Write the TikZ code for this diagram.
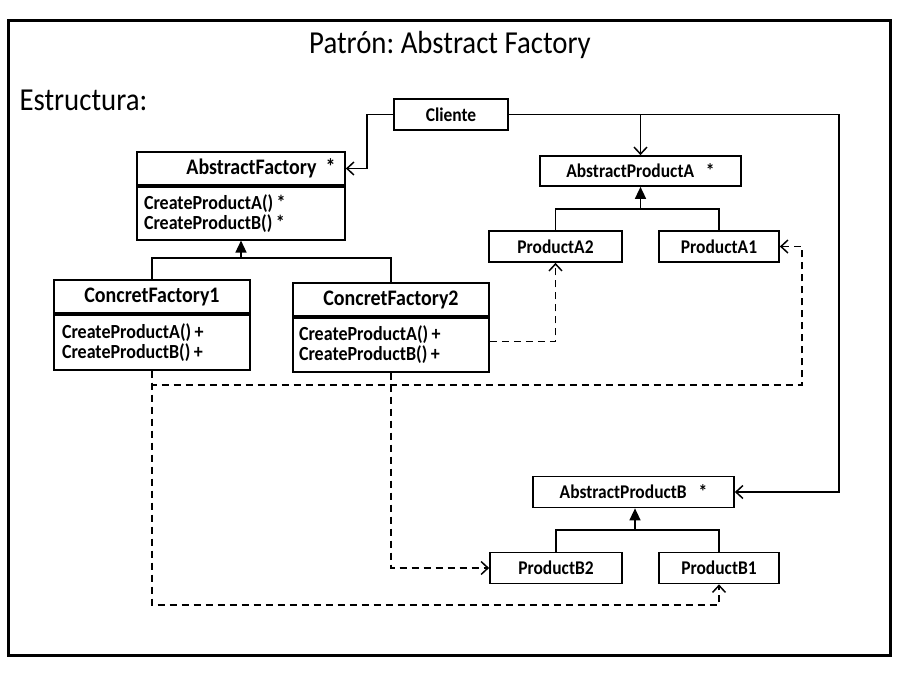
\documentclass[tikz,border=0pt]{standalone}
\usepackage{fontspec}
\setmainfont{Carlito}[FakeStretch=0.9]
\usetikzlibrary{arrows.meta}
\frenchspacing
\tikzset{
  box/.style={draw, line width=1.7pt, rectangle, inner sep=0pt, font=\fontsize{19.4}{22}\selectfont\bfseries},
  hdr/.style={box, minimum height=33pt, font=\fontsize{22.2}{24}\selectfont\bfseries},
  body/.style={box, anchor=north, align=left, font=\fontsize{20}{20}\selectfont\bfseries},
  conn/.style={line width=1.5pt},
  assoc/.style={conn, -{Straight Barb[length=7pt, width=13pt, line width=1.5pt]}},
  gen/.style={conn, -{Triangle[length=12pt, width=11pt]}},
  dep/.style={conn, dash pattern=on 7pt off 5pt, -{Straight Barb[length=7pt, width=13pt, line width=1.5pt]}},
}
\begin{document}
\begin{tikzpicture}[x=1pt, y=-1pt]
\frenchspacing
\useasboundingbox (0,0) rectangle (900,675);
\draw[line width=3pt] (8,20) rectangle (890,655);
\node[font=\fontsize{32}{34}\selectfont] (title) at (450,45) {Patrón: Abstract Factory};
\node[font=\fontsize{32}{34}\selectfont, anchor=west] (estr) at (16,100) {Estructura:};

% boxes
\node[box, minimum width=114pt, minimum height=31pt] (cli) at (451,114.5) {Cliente};

\node[hdr, minimum width=208pt] (afh) at (241,168.5) {\hspace*{40pt}AbstractFactory~~*};
\node[body, minimum width=208pt, minimum height=53pt, text width=194pt] (afb) at (afh.south) {CreateProductA()\,*\\CreateProductB()\,*};

\node[hdr, minimum width=196pt] (cf1h) at (152,296.5) {ConcretFactory1};
\node[body, minimum width=196pt, minimum height=55pt, text width=180pt] (cf1b) at (cf1h.south) {CreateProductA()\,+\\CreateProductB()\,+};

\node[hdr, minimum width=196pt] (cf2h) at (391,299.5) {ConcretFactory2};
\node[body, minimum width=196pt, minimum height=54pt, text width=184pt] (cf2b) at (cf2h.south) {CreateProductA()\,+\\CreateProductB()\,+};

\node[box, minimum width=201pt, minimum height=30pt] (apa) at (640.5,171) {AbstractProductA~~~*};
\node[box, minimum width=133pt, minimum height=31pt] (pa2) at (555.5,246.5) {ProductA2};
\node[box, minimum width=120pt, minimum height=31pt] (pa1) at (719,246.5) {ProductA1};

\node[box, minimum width=201pt, minimum height=31pt] (apb) at (633.5,492) {AbstractProductB~~~*};
\node[box, minimum width=132pt, minimum height=31pt] (pb2) at (556,568) {ProductB2};
\node[box, minimum width=120pt, minimum height=31pt] (pb1) at (719,568) {ProductB1};

% helper coordinates
\coordinate (yaf) at (0,258);
\coordinate (ya) at (0,209);
\coordinate (yb) at (0,530);
\coordinate (cr) at (839,114.5);
\coordinate (dh) at (802,385);
\coordinate (y605) at (0,605);

% associations from Cliente
\draw[assoc] (cli.west) -- ++(-26,0) |- (afh.east);
\draw[assoc] (cli.east) -- (cr) |- (apb.east);
\draw[assoc] (apa.north |- cli.east) -- (apa.north);

% generalisations
\draw[conn] (cf1h.north) |- (cf1h.north |- yaf) -- (cf2h.north |- yaf) -- (cf2h.north);
\draw[gen] (afb.south |- yaf) -- (afb.south);
\draw[conn] (pa2.north) -- (pa2.north |- ya) -- (pa1.north |- ya) -- (pa1.north);
\draw[gen] (apa.south |- ya) -- (apa.south);
\draw[conn] (pb2.north) -- (pb2.north |- yb) -- (pb1.north |- yb) -- (pb1.north);
\draw[gen] ([xshift=1.5pt]apb.south |- yb) -- ([xshift=1.5pt]apb.south);

% dependencies
\draw[dep] ([yshift=3pt]cf2b.east) -| (pa2.south);
\draw[dep] (cf1b.south) |- (dh) |- (pa1.east);
\draw[dep] (cf2b.south) |- (pb2.west);
\draw[dep] (cf1b.south) |- (pb1.south |- y605) -- (pb1.south);
\end{tikzpicture}
\end{document}
